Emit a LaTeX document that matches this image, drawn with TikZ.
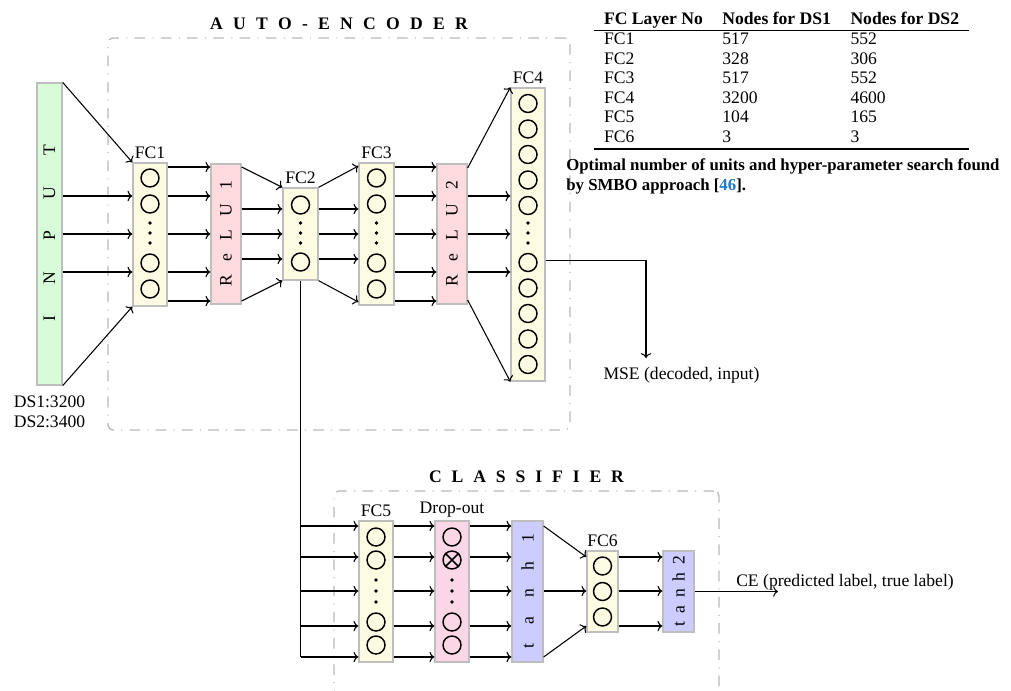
\documentclass[tikz,border=0pt]{standalone}
\usepackage{fontspec}
\setmainfont{Liberation Serif}
\usetikzlibrary{calc,arrows.meta}
\definecolor{fcyellow}{RGB}{253,251,225}
\definecolor{relupink}{RGB}{255,218,222}
\definecolor{droppink}{RGB}{250,214,230}
\definecolor{tanhblue}{RGB}{204,204,255}
\definecolor{inputgreen}{RGB}{216,252,216}
\definecolor{citeblue}{RGB}{30,120,200}
\definecolor{boxgray}{RGB}{190,190,190}
\definecolor{framegray}{RGB}{185,185,185}
\def\upx{0.6135pt}
\begin{document}
\fontsize{10.8pt}{12pt}\selectfont
\begin{tikzpicture}[x=0.6135pt,y=-0.6135pt,
  layer/.style={draw=boxgray, line width=0.8pt, inner sep=0pt},
  neuron/.style={circle, draw=black, line width=0.9pt, minimum size=18*\upx, inner sep=0pt},
  conn/.style={-{To[length=3pt,width=6.4pt]}, line width=0.65pt},
  group/.style={draw=framegray, line width=0.8pt, rounded corners=3pt, inner sep=0pt,
    dash pattern=on 6.5pt off 4.5pt on 0.6pt off 4.5pt},
  lbl/.style={inner sep=2pt},
  vtext/.style={rotate=90, inner sep=0pt},
  dot/.style={circle, fill=black, inner sep=0pt, minimum size=2.2pt},
]
\useasboundingbox (0,0) rectangle (1011,691);

% frames
\node[group, minimum width=462*\upx, minimum height=392*\upx] (ae) at (339,234) {};
\node[group, minimum width=385*\upx, minimum height=204*\upx] (cls) at (526.5,593) {};
\node[font=\bfseries] (aelbl) at (339,24) {\makebox[158pt]{A\hfill U\hfill T\hfill O\hfill -\hfill E\hfill N\hfill C\hfill O\hfill D\hfill E\hfill R}};
\node[font=\bfseries] (clslbl) at (526.5,477) {\makebox[119.6pt]{C\hfill L\hfill A\hfill S\hfill S\hfill I\hfill F\hfill I\hfill E\hfill R}};

% input
\node[layer, fill=inputgreen, minimum width=25*\upx, minimum height=302*\upx] (input) at (49.5,234) {};
\node[vtext] (inputt) at (49.5,233) {\makebox[108pt]{I\hfill N\hfill P\hfill U\hfill T}};
\node[align=center, anchor=north] (ds) at (49.5,390) {DS1:3200\\DS2:3400};

% FC1
\node[layer, fill=fcyellow, minimum width=34*\upx, minimum height=143*\upx, label={[lbl]above:FC1}] (fc1) at (150,234.5) {};
\foreach \i/\yy in {1/178,2/204,3/263,4/289} \node[neuron] (fc1c\i) at (150,\yy) {};
\foreach \i/\yy in {1/223,2/233,3/243} \node[dot] (fc1d\i) at (150,\yy) {};

% ReLU1
\node[layer, fill=relupink, minimum width=30*\upx, minimum height=140*\upx] (relu1) at (226,234) {};
\node[vtext] (relu1t) at (226,234) {\makebox[65pt]{R\hfill e\hfill L\hfill U\hfill 1}};

% FC2
\node[layer, fill=fcyellow, minimum width=35*\upx, minimum height=92*\upx, label={[lbl]above:FC2}] (fc2) at (300.5,234) {};
\foreach \i/\yy in {1/205,2/262} \node[neuron] (fc2c\i) at (300.5,\yy) {};
\foreach \i/\yy in {1/223,2/233,3/243} \node[dot] (fc2d\i) at (300.5,\yy) {};

% FC3
\node[layer, fill=fcyellow, minimum width=35*\upx, minimum height=142*\upx, label={[lbl]above:FC3}] (fc3) at (376.5,234) {};
\foreach \i/\yy in {1/178,2/204,3/263,4/289} \node[neuron] (fc3c\i) at (376.5,\yy) {};
\foreach \i/\yy in {1/223,2/233,3/243} \node[dot] (fc3d\i) at (376.5,\yy) {};

% ReLU2
\node[layer, fill=relupink, minimum width=30*\upx, minimum height=140*\upx] (relu2) at (452,234) {};
\node[vtext] (relu2t) at (452,234) {\makebox[65pt]{R\hfill e\hfill L\hfill U\hfill 2}};

% FC4
\node[layer, fill=fcyellow, minimum width=34*\upx, minimum height=293*\upx, label={[lbl]above:FC4}] (fc4) at (528,234.5) {};
\foreach \i/\yy in {1/103.5,2/129,3/154.5,4/180,5/205.5,6/262.5,7/288,8/313.5,9/339,10/364.5} \node[neuron] (fc4c\i) at (528,\yy) {};
\foreach \i/\yy in {1/223,2/233,3/243} \node[dot] (fc4d\i) at (528,\yy) {};

% MSE
\coordinate (mseend) at (646,358);
\node (mse) at (681.5,375) {MSE (decoded, input)};

% FC5
\node[layer, fill=fcyellow, minimum width=34*\upx, minimum height=141*\upx, label={[lbl]above:FC5}] (fc5) at (376,591.5) {};
\foreach \i/\yy in {1/537,2/560,3/622,4/645} \node[neuron] (fc5c\i) at (376,\yy) {};
\foreach \i/\yy in {1/580,2/591,3/602} \node[dot] (fc5d\i) at (376,\yy) {};

% Dropout
\node[layer, fill=droppink, minimum width=34*\upx, minimum height=141*\upx, label={[lbl]above:Drop-out}] (drop) at (452,591.5) {};
\foreach \i/\yy in {1/537,2/560,3/622,4/645} \node[neuron] (dropc\i) at (452,\yy) {};
\draw[line width=0.9pt] (dropc2.north west) -- (dropc2.south east) (dropc2.north east) -- (dropc2.south west);
\foreach \i/\yy in {1/580,2/591,3/602} \node[dot] (dropd\i) at (452,\yy) {};

% tanh1
\node[layer, fill=tanhblue, minimum width=31*\upx, minimum height=141*\upx] (tanh1) at (527.5,591.5) {};
\node[vtext] (tanh1t) at (527.5,591) {\makebox[70pt]{t\hfill a\hfill n\hfill h\hfill 1}};

% FC6
\node[layer, fill=fcyellow, minimum width=31*\upx, minimum height=81*\upx, label={[lbl]above:FC6}] (fc6) at (602.5,591.5) {};
\foreach \i/\yy in {1/566,2/591.5,3/617} \node[neuron] (fc6c\i) at (602.5,\yy) {};

% tanh2
\node[layer, fill=tanhblue, minimum width=31*\upx, minimum height=81*\upx] (tanh2) at (678.5,591.5) {};
\node[vtext] (tanh2t) at (678.5,591) {\makebox[43pt]{t\hfill a\hfill n\hfill h\hfill 2}};

% CE
\coordinate (ceend) at (778,591.5);
\node (ce) at (845,582) {CE (predicted label, true label)};

% ---------- connectors ----------
\draw[conn] (input.north east) -- (fc1.north west);
\foreach \yy in {196,234,272} \draw[conn] (input.east |- 0,\yy) -- (fc1.west |- 0,\yy);
\draw[conn] (input.south east) -- (fc1.south west);
\foreach \yy in {167,196,234,272,301} \draw[conn] (fc1.east |- 0,\yy) -- (relu1.west |- 0,\yy);
\draw[conn] (relu1.east |- 0,167) -- (fc2.north west);
\foreach \yy in {209,234,259} \draw[conn] (relu1.east |- 0,\yy) -- (fc2.west |- 0,\yy);
\draw[conn] (relu1.east |- 0,301) -- (fc2.south west);
\draw[conn] (fc2.north east) -- (fc3.west |- 0,166);
\foreach \yy in {209,234,259} \draw[conn] (fc2.east |- 0,\yy) -- (fc3.west |- 0,\yy);
\draw[conn] (fc2.south east) -- (fc3.west |- 0,302);
\foreach \yy in {167,196,234,272,301} \draw[conn] (fc3.east |- 0,\yy) -- (relu2.west |- 0,\yy);
\draw[conn] (relu2.east |- 0,168) -- (fc4.north west);
\foreach \yy in {196,234,272} \draw[conn] (relu2.east |- 0,\yy) -- (fc4.west |- 0,\yy);
\draw[conn] (relu2.east |- 0,300) -- (fc4.south west);
\draw[conn] (fc4.east |- 0,260.5) -| (mseend);
\draw[line width=1pt] (fc2.south) -- (fc2.south |- 0,657);
\foreach \yy in {526,557,591,626,657} \draw[conn] (fc2.south |- 0,\yy) -- (fc5.west |- 0,\yy);
\foreach \yy in {526,557,591,626,657} \draw[conn] (fc5.east |- 0,\yy) -- (drop.west |- 0,\yy);
\foreach \yy in {526,557,591,626,657} \draw[conn] (drop.east |- 0,\yy) -- (tanh1.west |- 0,\yy);
\draw[conn] (tanh1.east |- 0,526) -- (fc6.west |- 0,557);
\draw[conn] (tanh1.east |- 0,591) -- (fc6.west |- 0,591);
\draw[conn] (tanh1.east |- 0,657) -- (fc6.west |- 0,626);
\foreach \yy in {557,591,626} \draw[conn] (fc6.east |- 0,\yy) -- (tanh2.west |- 0,\yy);
\draw[conn] (tanh2.east) -- (ceend);

% table
\node[anchor=north west, inner sep=0pt] (tab) at (594,10) {%
\begin{tabular}{lll}
\textbf{FC Layer No} & \textbf{Nodes for DS1} & \textbf{Nodes for DS2}\\
\noalign{\hrule height 0.6pt}
FC1 & 517 & 552\\
FC2 & 328 & 306\\
FC3 & 517 & 552\\
FC4 & 3200 & 4600\\
FC5 & 104 & 165\\
FC6 & 3 & 3\\
\noalign{\hrule height 0.8pt}
\end{tabular}};
\node[anchor=north west, inner sep=0pt, align=left, font=\bfseries\fontsize{10.3pt}{12.3pt}\selectfont] (cap) at (566,158) {Optimal number of units and hyper-parameter search found\\by SMBO approach [\textcolor{citeblue}{46}].};
\end{tikzpicture}
\end{document}
